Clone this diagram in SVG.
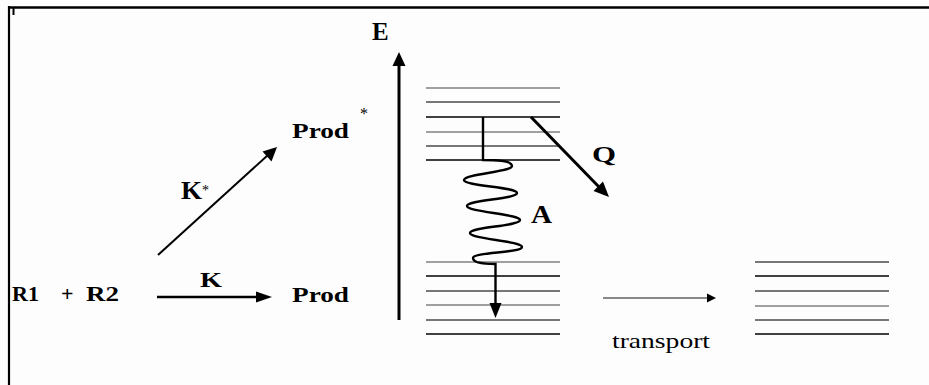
<svg xmlns="http://www.w3.org/2000/svg" width="929" height="385" viewBox="0 0 929 385">
<style>
.b{font-family:"Liberation Serif","Times New Roman",serif;font-weight:bold;fill:#000}
.r{font-family:"Liberation Serif","Times New Roman",serif;fill:#000}
.lv{stroke-width:1.6;fill:none}
.g{stroke:#808080}.d{stroke:#4a4a4a}.k{stroke:#000}
.ln{stroke:#000;fill:none;stroke-linecap:butt}
</style>
<rect x="0" y="0" width="929" height="385" fill="#fdfdfd"/>
<g id="frame" stroke="#000" fill="none">
<line x1="8" y1="7.5" x2="929" y2="7.5" stroke-width="2.6"/>
<line x1="9" y1="6" x2="9" y2="385" stroke-width="2.2"/>
<line x1="13.5" y1="8" x2="13.5" y2="15" stroke-width="2"/>
</g>
<g id="reactants"><text class="b" x="12" y="301" font-size="22">R1</text><text class="b" x="61" y="301" font-size="22">+</text><text class="b" x="86" y="301" font-size="22" textLength="33" lengthAdjust="spacingAndGlyphs">R2</text></g>
<g id="prod"><text class="b" x="292" y="302" font-size="22" textLength="57" lengthAdjust="spacingAndGlyphs">Prod</text></g>
<g id="prodstar"><text class="b" x="292" y="138" font-size="22" textLength="57" lengthAdjust="spacingAndGlyphs">Prod</text><text class="r" x="360" y="119" font-size="16">*</text></g>
<g id="labels">
<text class="b" x="200" y="287" font-size="20" textLength="22" lengthAdjust="spacingAndGlyphs">K</text>
<text class="b" x="181" y="199" font-size="25" textLength="21" lengthAdjust="spacingAndGlyphs">K</text><text class="r" x="202" y="195" font-size="14">*</text>
<text class="b" x="372" y="40" font-size="25">E</text>
<text class="b" x="592" y="162" font-size="24" textLength="24" lengthAdjust="spacingAndGlyphs">Q</text>
<text class="b" x="531" y="223" font-size="25" textLength="21" lengthAdjust="spacingAndGlyphs">A</text>
<text class="r" x="612" y="348" font-size="22" textLength="98" lengthAdjust="spacingAndGlyphs">transport</text>
</g>
<g id="upper-levels">
<line class="lv g" x1="426" y1="88" x2="560" y2="88"/>
<line class="lv d" x1="426" y1="102" x2="560" y2="102"/>
<line class="lv k" x1="426" y1="117" x2="560" y2="117"/>
<line class="lv g" x1="426" y1="132" x2="560" y2="132"/>
<line class="lv d" x1="426" y1="146" x2="560" y2="146"/>
<line class="lv k" x1="426" y1="160" x2="560" y2="160"/>
</g>
<g id="lower-levels">
<line class="lv g" x1="426" y1="262" x2="560" y2="262"/>
<line class="lv k" x1="426" y1="276" x2="560" y2="276"/>
<line class="lv d" x1="426" y1="291" x2="560" y2="291"/>
<line class="lv g" x1="426" y1="305" x2="560" y2="305"/>
<line class="lv d" x1="426" y1="320" x2="560" y2="320"/>
<line class="lv k" x1="426" y1="334" x2="560" y2="334"/>
</g>
<g id="transported-levels">
<line class="lv d" x1="755" y1="262" x2="889" y2="262"/>
<line class="lv k" x1="755" y1="276" x2="889" y2="276"/>
<line class="lv d" x1="755" y1="291" x2="889" y2="291"/>
<line class="lv g" x1="755" y1="306" x2="889" y2="306"/>
<line class="lv d" x1="755" y1="320" x2="889" y2="320"/>
<line class="lv k" x1="755" y1="334" x2="889" y2="334"/>
</g>
<g id="connectors">
<line class="ln" x1="157" y1="297" x2="258" y2="297" stroke-width="2.5"/>
<polygon points="256,291.5 272,297 256,302.5" fill="#000"/>
<line class="ln" x1="158" y1="255" x2="268" y2="155" stroke-width="2"/>
<polygon points="277,147 271.5,161.5 262.5,151.5" fill="#000"/>
<line class="ln" x1="399" y1="320" x2="399" y2="64" stroke-width="3"/>
<polygon points="399,52 405.5,66 392.5,66" fill="#000"/>
<path class="ln" stroke-width="2.4" d="M483,117 V160 C500,160 512,161 512,166 C512,172 464,174 464,180 C464,186 517,187 517,193 C517,199 467,200 467,206 C467,212 520,214 520,220 C520,226 470,227 470,233 C470,239 522,241 522,247 C522,253 473,252 473,258 C473,263 485,264 495.5,264 V305"/>
<polygon points="489.5,303 501.5,303 495.5,318" fill="#000"/>
<line class="ln" x1="531" y1="117" x2="600" y2="188" stroke-width="3"/>
<polygon points="609,197 593.5,191 603,181.5" fill="#000"/>
<line x1="603" y1="298" x2="709" y2="298" stroke="#606060" stroke-width="1.6"/>
<polygon points="707,293.5 716,298 707,302.5" fill="#000"/>
</g>
</svg>
